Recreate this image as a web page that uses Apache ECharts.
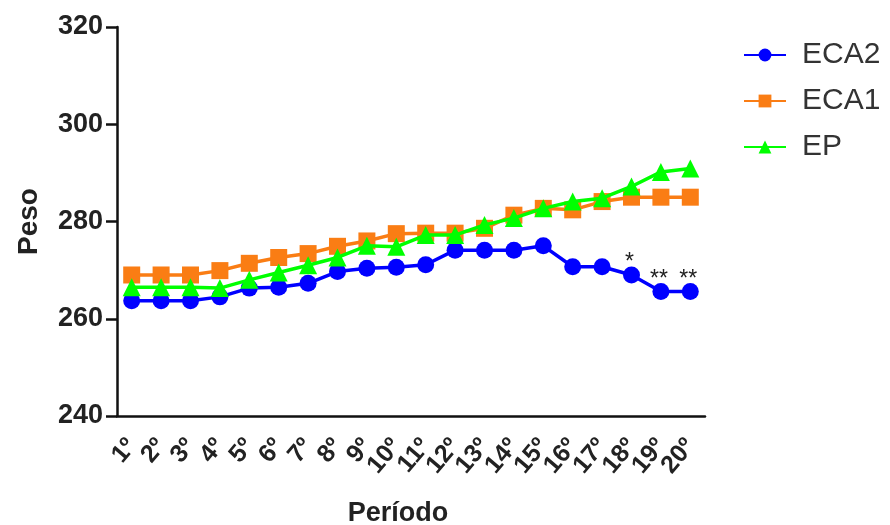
<!DOCTYPE html>
<html>
<head>
<meta charset="UTF-8">
<title>Peso por período</title>
<script src="https://cdn.jsdelivr.net/npm/echarts@6/dist/echarts.min.js"></script>
<style>
  html, body { margin: 0; padding: 0; background: #fff; }
</style>
</head>
<body>
<div id="main" style="width: 890px; height: 525px;"></div>
<script type="text/javascript">
// categorias e valores
var periodos = ['1º','2º','3º','4º','5º','6º','7º','8º','9º','10º',
                '11º','12º','13º','14º','15º','16º','17º','18º','19º','20º'];
var eca2 = [263.7,263.7,263.7,264.5,266.3,266.5,267.3,269.7,270.4,270.6,
            271.1,274.1,274.1,274.1,275.0,270.7,270.7,269.0,265.6,265.6];
var eca1 = [269.0,269.0,269.0,269.9,271.4,272.6,273.4,274.9,276.0,277.5,
            277.6,277.6,278.6,281.3,282.7,282.4,284.1,285.0,285.0,285.0];
var ep   = [266.5,266.5,266.5,266.3,268.0,269.5,271.0,272.6,275.0,274.8,
            277.2,277.2,279.3,280.7,282.7,284.1,284.8,287.2,290.2,290.9];
// asteriscos de significância na série ECA2
var signif = ['','','','','','','','','','','','','','','','','','*','**','**'];

var font = 'Liberation Sans, Arial, sans-serif';

var eca2Data = [];
for (var i = 0; i < eca2.length; i++) {
    var d = { value: eca2[i] };
    if (signif[i]) {
        d.label = { show: true, formatter: signif[i] };
    }
    eca2Data.push(d);
}

var myChart = echarts.init(document.getElementById('main'));

var option = {
    animation: false,
    textStyle: { fontFamily: font },
    grid: { left: 117, right: 185, top: 27, bottom: 109, containLabel: false, outerBoundsMode: 'none' },
    legend: {
        orient: 'vertical',
        left: 738,
        top: 35,
        itemGap: 16,
        itemWidth: 42,
        itemHeight: 16,
        textStyle: { fontSize: 30, color: '#333', fontFamily: font, padding: [0, 0, 0, 11] },
        data: ['ECA2', 'ECA1', 'EP']
    },
    xAxis: {
        type: 'category',
        data: periodos,
        name: 'Período',
        nameLocation: 'middle',
        nameGap: 84,
        nameTextStyle: { fontSize: 27, fontWeight: 'bold', color: '#222', padding: [0, 26, 0, 0] },
        axisLine: { lineStyle: { color: '#111', width: 2.5 } },
        axisTick: { alignWithLabel: true, length: 13, lineStyle: { color: '#111', width: 2.5 } },
        axisLabel: {
            interval: 0, rotate: 50, margin: 26,
            fontSize: 25, fontWeight: 'bold', color: '#222'
        }
    },
    yAxis: {
        type: 'value',
        min: 240,
        max: 320,
        interval: 20,
        name: 'Peso',
        nameLocation: 'middle',
        nameRotate: 90,
        nameGap: 74,
        nameTextStyle: { fontSize: 28, fontWeight: 'bold', color: '#222' },
        splitLine: { show: false },
        axisLine: { show: true, lineStyle: { color: '#111', width: 2.5 } },
        axisTick: { show: true, length: 11, lineStyle: { color: '#111', width: 2.5 } },
        axisLabel: { fontSize: 27, fontWeight: 'bold', color: '#222', margin: 14 }
    },
    series: [
        {
            name: 'ECA2', type: 'line', data: eca2Data,
            symbol: 'circle', symbolSize: 17,
            lineStyle: { width: 3.5, color: '#0000ff' },
            itemStyle: { color: '#0000ff' },
            label: { show: false, position: 'top', distance: 0, offset: [-2, 8],
                     fontSize: 23, color: '#222' },
            z: 3
        },
        {
            name: 'ECA1', type: 'line', data: eca1,
            symbol: 'rect', symbolSize: 17,
            lineStyle: { width: 3.5, color: '#fa7d14' },
            itemStyle: { color: '#fa7d14' },
            z: 2
        },
        {
            name: 'EP', type: 'line', data: ep,
            symbol: 'triangle', symbolSize: 18,
            lineStyle: { width: 3.5, color: '#00ff00' },
            itemStyle: { color: '#00ff00' },
            z: 4
        }
    ]
};

myChart.setOption(option);
</script>
</body>
</html>
